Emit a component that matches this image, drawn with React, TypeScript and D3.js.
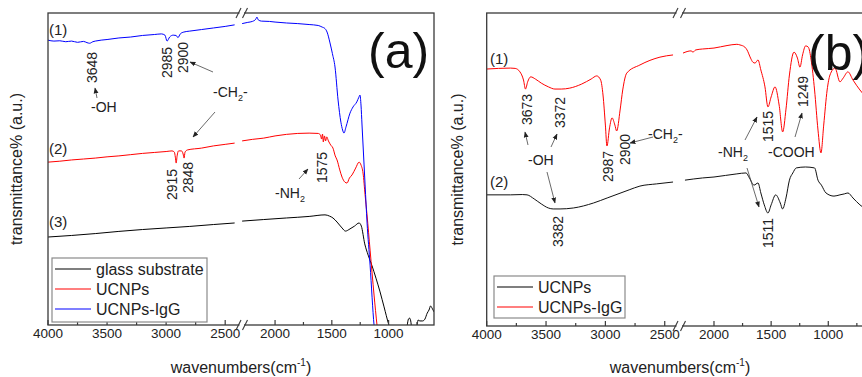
import React from "react";
import * as d3 from "d3";

type Pt = [number, number];

// ---------- data (wavenumber cm-1, transmittance a.u.) ----------
const aBlueIgG: Pt[] = [
  [4000, 91.3], [3950, 91.0], [3900, 91.1], [3850, 90.8], [3800, 91.0], [3750, 90.6], [3700, 90.9], [3670, 90.5],
  [3648, 90.3], [3620, 90.8], [3600, 91.0], [3500, 91.5], [3400, 92.0], [3300, 92.3], [3200, 92.8], [3100, 93.1],
  [3040, 93.3], [3010, 92.9], [2992, 91.0], [2970, 92.3], [2940, 92.9], [2915, 92.8], [2900, 92.1], [2880, 93.3],
  [2850, 93.9], [2800, 94.2], [2700, 94.7], [2600, 95.2], [2500, 95.7], [2420, 96.2],
  [2290, 96.6], [2240, 97.0], [2200, 97.3], [2170, 98.0], [2160, 98.7], [2148, 97.8], [2120, 97.4], [2050, 97.3],
  [2000, 97.1], [1900, 96.8], [1800, 96.6], [1700, 96.3], [1620, 96.0], [1586, 95.5], [1560, 95.0], [1542, 93.9],
  [1516, 90.4], [1495, 87.0], [1472, 82.7], [1445, 72.1], [1420, 65.0], [1405, 62.5], [1393, 61.5], [1375, 63.5],
  [1340, 67.9], [1313, 69.9], [1280, 71.5], [1262, 73.0], [1252, 73.7], [1243, 70.5], [1234, 64.1], [1216, 51.3],
  [1207, 44.9], [1190, 33.0], [1163, 19.2], [1128, 0], [1110, -5],
];
const aRedUCNPs: Pt[] = [
  [4000, 52.2], [3900, 52.5], [3800, 52.9], [3700, 53.2], [3600, 53.5], [3500, 53.9], [3400, 54.2], [3300, 54.6],
  [3200, 55.0], [3100, 55.3], [3000, 55.6], [2950, 55.8], [2930, 55.4], [2922, 53.8], [2915, 51.9], [2907, 54.2],
  [2895, 55.8], [2870, 55.8], [2856, 54.8], [2848, 53.5], [2840, 55.4], [2820, 56.1], [2700, 56.7], [2600, 57.4],
  [2500, 57.9], [2420, 58.3],
  [2290, 59.0], [2200, 59.5], [2100, 59.9], [2000, 60.6], [1900, 61.1], [1800, 61.4], [1700, 61.5], [1620, 61.4],
  [1600, 60.9], [1590, 59.6], [1582, 61.2], [1575, 58.7], [1565, 60.6], [1555, 59.0], [1545, 60.3], [1530, 59.0],
  [1510, 57.7], [1490, 56.7], [1470, 54.2], [1454, 52.9], [1430, 49.7], [1410, 47.4], [1385, 45.8], [1366, 45.5],
  [1345, 47.1], [1322, 48.1], [1290, 50.3], [1260, 52.2], [1243, 51.3], [1225, 48.7], [1207, 41.7], [1190, 35.3],
  [1163, 24.0], [1128, 9.6], [1102, 0], [1085, -5],
];
const aBlackGlass: Pt[] = [
  [4000, 28.2], [3800, 28.7], [3600, 29.3], [3400, 30.0], [3200, 30.6], [3000, 31.1], [2800, 31.6], [2600, 32.2],
  [2420, 32.7],
  [2290, 33.3], [2100, 33.8], [1900, 34.3], [1700, 34.8], [1560, 35.3], [1520, 34.9], [1490, 34.3], [1454, 33.0],
  [1410, 31.1], [1380, 30.1], [1340, 30.8], [1300, 31.7], [1260, 32.7], [1240, 31.7], [1210, 26.0], [1180, 22.4],
  [1146, 19.0], [1111, 15.0], [1075, 10.6], [1040, 5.8], [1000, 0.3], [970, -3], [900, -6.4], [850, -3.2],
  [837, -0.3], [825, 1.9], [815, 2.2], [805, 1.3], [795, -1.6], [770, -4.8], [750, -0.6], [740, 1.6], [725, 1.3],
  [700, 1.3], [680, 1.9], [660, 3.8], [644, 4.8], [630, 6.1], [617, 5.4], [600, 4.2],
];
const bRedIgG: Pt[] = [
  [4000, 82.1], [3900, 82.3], [3800, 82.4], [3760, 82.3], [3720, 81.2], [3690, 78.6], [3673, 75.7], [3655, 78.0],
  [3629, 79.6], [3590, 78.9], [3540, 77.6], [3480, 76.4], [3425, 75.7], [3372, 75.7], [3300, 76.0], [3200, 77.3],
  [3120, 78.9], [3073, 79.9], [3040, 78.6], [3020, 73.8], [3000, 64.2], [2987, 57.5], [2965, 63.3], [2944, 66.5],
  [2920, 64.2], [2905, 62.3], [2876, 69.0], [2854, 75.4], [2820, 80.8], [2709, 83.4], [2540, 85.9], [2430, 86.6],
  [2271, 87.2], [2200, 87.9], [2184, 87.5], [2160, 88.2], [2100, 88.5], [2000, 88.8], [1886, 89.6], [1800, 90.0],
  [1773, 89.8], [1730, 89.1], [1711, 88.2], [1680, 85.6], [1660, 84.3], [1641, 84.0], [1615, 85.0], [1590, 81.8],
  [1554, 76.4], [1528, 70.0], [1500, 73.2], [1466, 76.4], [1430, 70.6], [1399, 62.0], [1370, 69.3], [1340, 80.2],
  [1300, 87.5], [1270, 85.6], [1248, 82.7], [1225, 86.6], [1198, 89.5], [1175, 89.1], [1150, 85.0], [1120, 75.4],
  [1090, 62.6], [1064, 55.3], [1040, 64.2], [1010, 75.4], [985, 80.2], [941, 82.4], [898, 78.0], [870, 79.2],
  [828, 81.2], [784, 78.6], [723, 75.4], [660, 72.8], [600, 71.2],
];
const bBlackUCNPs: Pt[] = [
  [4000, 41.9], [3800, 41.9], [3700, 42.0], [3660, 41.9], [3600, 40.6], [3540, 39.0], [3480, 37.7], [3440, 37.4],
  [3382, 37.4], [3270, 37.7], [3100, 39.3], [2985, 40.9], [2800, 43.5], [2709, 44.7], [2570, 45.4], [2430, 46.0],
  [2254, 46.6], [2100, 47.3], [2000, 47.6], [1900, 48.1], [1800, 48.6], [1720, 48.9], [1690, 47.3], [1650, 45.0],
  [1615, 45.7], [1590, 42.5], [1560, 38.7], [1528, 36.1], [1500, 38.7], [1460, 41.9], [1420, 39.3], [1400, 37.4],
  [1370, 40.9], [1340, 46.6], [1310, 48.9], [1280, 50.5], [1200, 50.8], [1120, 50.5], [1090, 46.6], [1060, 45.0],
  [1020, 42.5], [950, 41.5], [898, 41.9], [860, 42.2], [828, 42.5], [784, 40.9], [723, 38.7], [660, 37.1], [600, 36.1],
];

const majorTicksLeft = [4000, 3500, 3000, 2500];
const majorTicksRight = [2000, 1500, 1000];
const minorTicksLeft = [3750, 3250, 2750];
const minorTicksRight = [1750, 1250, 750];

const aLegendLabels = ["glass substrate", "UCNPs", "UCNPs-IgG"];
const aLegendColors = ["#000000", "#ff0000", "#0000ff"];
const bLegendLabels = ["UCNPs", "UCNPs-IgG"];
const bLegendColors = ["#000000", "#ff0000"];

const aPeakLabels = ["3648", "2985", "2900", "2915", "2848", "1575"];
const bPeakLabels = ["3673", "3372", "2987", "2900", "1515", "1249", "3382", "1511"];

// ---------- layout ----------
const FONT = "Arial, 'Liberation Sans', Helvetica, sans-serif";
const aPeakPos: Pt[] = [[97, 83], [172, 78], [188, 73], [177, 200], [193, 193], [327, 183]];
const bPeakPos: Pt[] = [[532, 125], [565, 128], [613, 182], [630, 165], [773, 142], [808, 107], [563, 247], [773, 248]];
const aArrows = [[97, 98, 95, 88], [213, 72, 190, 62], [215, 112, 193, 137], [299, 179, 308, 169]];
const bArrows = [[528, 145, 525, 132], [551, 147, 557, 134], [547, 172, 555, 203], [653, 137, 630, 143],
  [745, 140, 757, 117], [747, 168, 759, 207], [795, 137, 802, 113]];

type PanelProps = {
  id: string; left: number; right: number; top: number; bottom: number;
  lRange: [number, number]; rRange: [number, number]; slashes: number[];
  curves: { data: Pt[]; color: string }[];
};

function Panel(p: PanelProps) {
  const xl = d3.scaleLinear().domain([4000, 2400]).range(p.lRange);
  const xr = d3.scaleLinear().domain([2300, 600]).range(p.rRange);
  const y = d3.scaleLinear().domain([0, 100]).range([p.bottom, p.top]);
  const lineL = d3.line<Pt>().x(d => xl(d[0])).y(d => y(d[1])).curve(d3.curveMonotoneX);
  const lineR = d3.line<Pt>().x(d => xr(d[0])).y(d => y(d[1])).curve(d3.curveMonotoneX);
  const axisColor = "#3a3a3a";
  return (
    <g>
      <defs>
        <clipPath id={p.id}>
          <rect x={p.left} y={p.top} width={p.right - p.left} height={p.bottom - p.top} />
        </clipPath>
      </defs>
      <g clipPath={`url(#${p.id})`}>
        {p.curves.map((c, i) => (
          <g key={i}>
            <path d={lineL(c.data.filter(d => d[0] >= 2400)) || ""} fill="none" stroke={c.color} strokeWidth={1} />
            <path d={lineR(c.data.filter(d => d[0] <= 2300)) || ""} fill="none" stroke={c.color} strokeWidth={1} />
          </g>
        ))}
      </g>
      <rect x={p.left} y={p.top} width={p.right - p.left} height={p.bottom - p.top} fill="none" stroke={axisColor} strokeWidth={1.3} />
      {majorTicksLeft.map(t => (
        <g key={"ml" + t}>
          <line x1={xl(t)} x2={xl(t)} y1={p.bottom} y2={p.bottom - 5} stroke={axisColor} strokeWidth={1.2} />
          <text x={xl(t)} y={p.bottom + 13} textAnchor="middle" fontSize={13.5} fontFamily={FONT} fill="#222">{t}</text>
        </g>
      ))}
      {majorTicksRight.map(t => (
        <g key={"mr" + t}>
          <line x1={xr(t)} x2={xr(t)} y1={p.bottom} y2={p.bottom - 5} stroke={axisColor} strokeWidth={1.2} />
          <text x={xr(t)} y={p.bottom + 13} textAnchor="middle" fontSize={13.5} fontFamily={FONT} fill="#222">{t}</text>
        </g>
      ))}
      {minorTicksLeft.map(t => (
        <line key={"nl" + t} x1={xl(t)} x2={xl(t)} y1={p.bottom} y2={p.bottom - 3} stroke={axisColor} strokeWidth={1.2} />
      ))}
      {minorTicksRight.map(t => (
        <line key={"nr" + t} x1={xr(t)} x2={xr(t)} y1={p.bottom} y2={p.bottom - 3} stroke={axisColor} strokeWidth={1.2} />
      ))}
      {[p.top, p.bottom].map(yy => (
        <g key={"s" + yy}>
          <rect x={p.slashes[0] + 1} y={yy - 2} width={p.slashes[1] - p.slashes[0] - 2} height={4} fill="#fff" />
          {p.slashes.map(sx => (
            <line key={sx} x1={sx - 2.5} y1={yy + 5} x2={sx + 2.5} y2={yy - 5} stroke={axisColor} strokeWidth={1.1} />
          ))}
        </g>
      ))}
    </g>
  );
}

function Arrow({ a }: { a: number[] }) {
  return <line x1={a[0]} y1={a[1]} x2={a[2]} y2={a[3]} stroke="#444" strokeWidth={0.8} markerEnd="url(#arrowHead)" />;
}

function PeakLabel({ t, pos }: { t: string; pos: Pt }) {
  return (
    <text transform={`translate(${pos[0]},${pos[1]}) rotate(-90)`} fontSize={14} fontFamily={FONT} fill="#222">{t}</text>
  );
}

function Txt({ x, y, children, size = 14 }: { x: number; y: number; children: React.ReactNode; size?: number }) {
  return <text x={x} y={y} fontSize={size} fontFamily={FONT} fill="#222">{children}</text>;
}

function CH2({ x, y }: { x: number; y: number }) {
  return (
    <text x={x} y={y} fontSize={14} fontFamily={FONT} fill="#222">
      -CH<tspan fontSize={9} dy={4}>2</tspan><tspan dy={-4}>-</tspan>
    </text>
  );
}
function NH2({ x, y }: { x: number; y: number }) {
  return (
    <text x={x} y={y} fontSize={14} fontFamily={FONT} fill="#222">
      -NH<tspan fontSize={9} dy={4}>2</tspan>
    </text>
  );
}

function XLabel({ x, y }: { x: number; y: number }) {
  return (
    <text x={x} y={y} textAnchor="middle" fontSize={16} fontFamily={FONT} fill="#222">
      wavenumbers(cm<tspan fontSize={10} dy={-7}>-1</tspan><tspan dy={7}>)</tspan>
    </text>
  );
}

function YLabel({ x, y }: { x: number; y: number }) {
  return (
    <text transform={`translate(${x},${y}) rotate(-90)`} textAnchor="middle" fontSize={16} fontFamily={FONT} fill="#222">
      transmittance% (a.u.)
    </text>
  );
}

function Legend({ x, y, w, h, labels, colors }: { x: number; y: number; w: number; h: number; labels: string[]; colors: string[] }) {
  return (
    <g>
      <rect x={x} y={y} width={w} height={h} fill="#fff" stroke="#8a8a8a" strokeWidth={1.2} />
      {labels.map((l, i) => (
        <g key={l}>
          <line x1={x + 3} x2={x + 39} y1={y + 11 + i * 20} y2={y + 11 + i * 20} stroke={colors[i]} strokeWidth={1.2} />
          <text x={x + 44} y={y + 17 + i * 20} fontSize={16} fontFamily={FONT} fill="#222">{l}</text>
        </g>
      ))}
    </g>
  );
}

export default function App() {
  return (
    <svg width={862} height={377} style={{ position: "absolute", left: 0, top: 0, background: "#fff" }}>
      <defs>
        <marker id="arrowHead" viewBox="0 0 10 10" refX="9" refY="5" markerWidth="6" markerHeight="6" orient="auto" markerUnits="userSpaceOnUse">
          <path d="M0,1 L10,5 L0,9 z" fill="#222" />
        </marker>
      </defs>
      <rect width={862} height={377} fill="#fff" />

      {/* Panel (a) */}
      <Panel id="clipA" left={48} right={434} top={13} bottom={325} lRange={[48, 237]} rRange={[241, 434]} slashes={[238.5, 245]}
        curves={[{ data: aBlackGlass, color: "#000000" }, { data: aRedUCNPs, color: "#ff0000" }, { data: aBlueIgG, color: "#0000ff" }]} />
      <rect x={367} y={17} width={60} height={61} fill="#fff" />
      <text x={368} y={68} fontSize={50} fontFamily={FONT} fill="#111">(a)</text>
      <Legend x={52} y={258} w={155} h={64} labels={aLegendLabels} colors={aLegendColors} />
      {aPeakLabels.map((t, i) => <PeakLabel key={t + i} t={t} pos={aPeakPos[i]} />)}
      {aArrows.map((a, i) => <Arrow key={i} a={a} />)}
      <Txt x={49} y={35} size={15}>(1)</Txt>
      <Txt x={49} y={154} size={15}>(2)</Txt>
      <Txt x={49} y={227} size={15}>(3)</Txt>
      <Txt x={91} y={112}>-OH</Txt>
      <CH2 x={213} y={97} />
      <NH2 x={275} y={198} />
      <XLabel x={241} y={373} />
      <YLabel x={22} y={169} />

      {/* Panel (b) */}
      <Panel id="clipB" left={486.7} right={874} top={13} bottom={326} lRange={[486.7, 676.6]} rRange={[679.7, 874]} slashes={[675.5, 683]}
        curves={[{ data: bBlackUCNPs, color: "#111111" }, { data: bRedIgG, color: "#ff0000" }]} />
      <text x={808} y={70} fontSize={50} fontFamily={FONT} fill="#111">(b)</text>
      <Legend x={494} y={276} w={131} h={42} labels={bLegendLabels} colors={bLegendColors} />
      {bPeakLabels.map((t, i) => <PeakLabel key={t + i} t={t} pos={bPeakPos[i]} />)}
      {bArrows.map((a, i) => <Arrow key={i} a={a} />)}
      <Txt x={490} y={64} size={15}>(1)</Txt>
      <Txt x={490} y={187} size={15}>(2)</Txt>
      <Txt x={528} y={165}>-OH</Txt>
      <CH2 x={648} y={139} />
      <NH2 x={718} y={157} />
      <Txt x={768} y={157}>-COOH</Txt>
      <XLabel x={680} y={373} />
      <YLabel x={463} y={169.5} />
    </svg>
  );
}
